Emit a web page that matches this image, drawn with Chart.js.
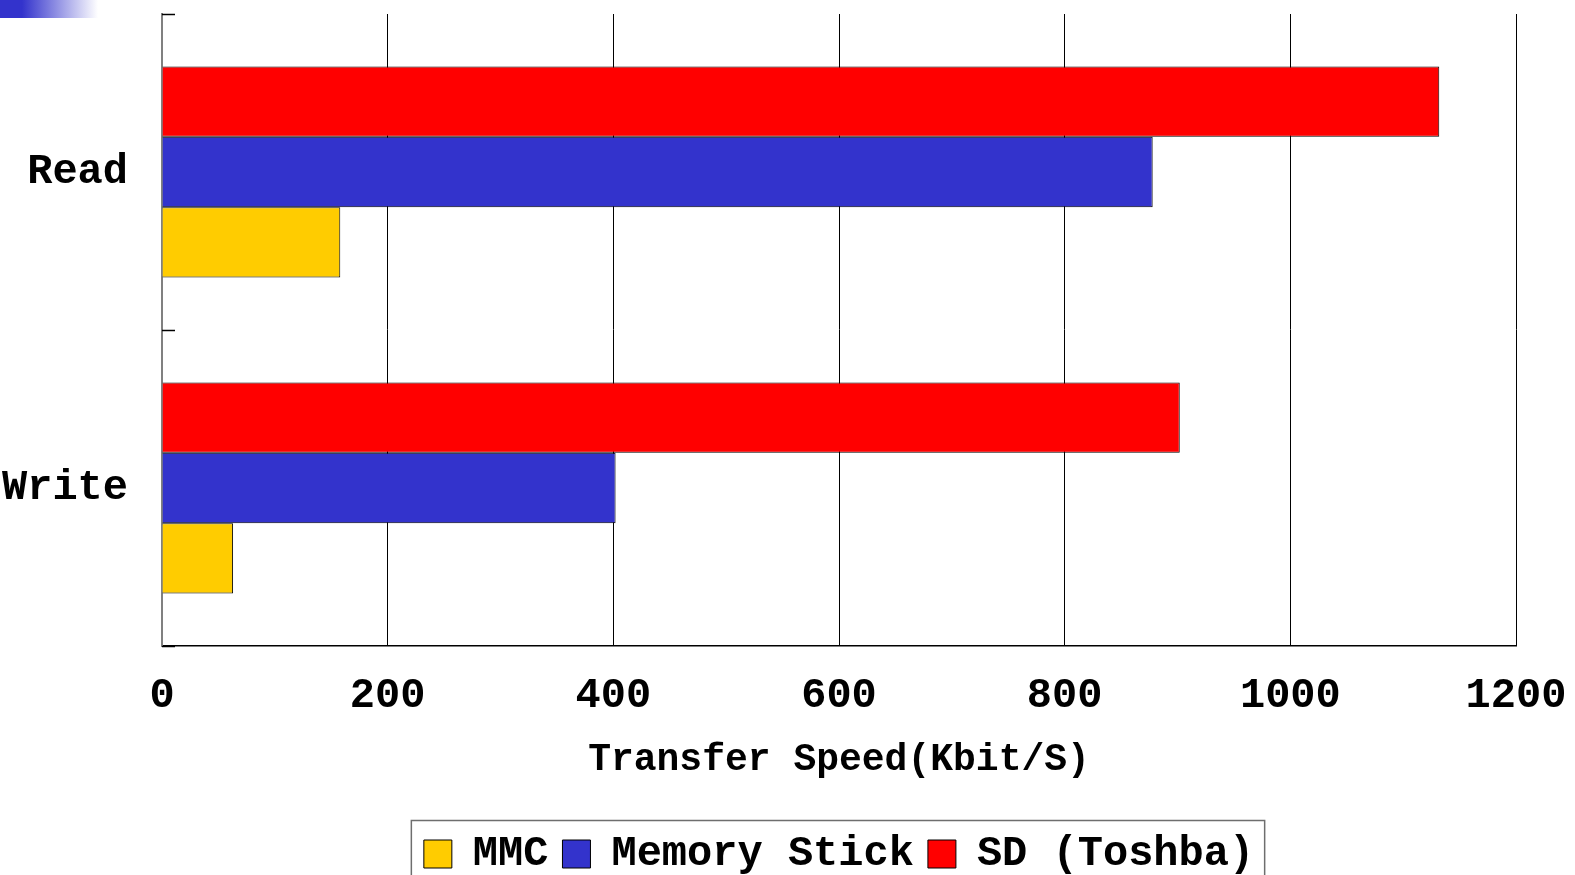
<!DOCTYPE html>
<html>
<head>
<meta charset="utf-8">
<title>Transfer Speed</title>
<script src="https://cdn.jsdelivr.net/npm/chart.js@4"></script>
<style>
  html, body { margin: 0; padding: 0; background: #fff; }
  #wrap { position: relative; width: 1575px; height: 875px; overflow: hidden; }
  #corner {
    position: absolute; left: 0; top: 0; width: 98px; height: 18px;
    background: linear-gradient(to right, #3333cc 0, #3333cc 22px, #ffffff 98px);
  }
  canvas { position: absolute; left: 0; top: 0; }
</style>
</head>
<body>
<div id="wrap">
  <canvas id="chart" width="1575" height="875"></canvas>
  <div id="corner"></div>
</div>
<script>
// ── Data ──────────────────────────────────────────────────────────────────
var CATEGORIES   = ['Read', 'Write'];
var MMC          = [158, 63];
var MEMORY_STICK = [878, 402];
var SD_TOSHBA    = [1132, 902];
var X_MAX        = 1200;
var X_STEP       = 200;

var FONT = "'Liberation Mono', 'DejaVu Sans Mono', monospace";

// ── Inside tick marks on the category axis ───────────────────────────────
var innerTicks = {
  id: 'innerTicks',
  afterDatasetsDraw: function (chart) {
    var y = chart.scales.y;
    var area = chart.chartArea;
    var ctx = chart.ctx;
    var n = y.ticks.length;
    var step = n > 1 ? y.getPixelForTick(1) - y.getPixelForTick(0) : area.bottom - area.top;
    var first = y.getPixelForTick(0) - step / 2;
    ctx.save();
    ctx.strokeStyle = '#000';
    ctx.lineWidth = 1.5;
    for (var i = 0; i <= n; i++) {
      var py = Math.round(first + i * step) + 0.5;
      ctx.beginPath();
      ctx.moveTo(area.left, py);
      ctx.lineTo(area.left + 13, py);
      ctx.stroke();
    }
    ctx.restore();
  }
};

// ── Frame round the legend ───────────────────────────────────────────────
var legendFrame = {
  id: 'legendFrame',
  afterDraw: function (chart) {
    var boxes = chart.legend && chart.legend.legendHitBoxes;
    if (!boxes || !boxes.length) { return; }
    var first = boxes[0], last = boxes[boxes.length - 1];
    var left = first.left - 13;
    var right = last.left + last.width + 10;
    var top = first.top - 13;
    var ctx = chart.ctx;
    ctx.save();
    ctx.strokeStyle = '#6e6e6e';
    ctx.lineWidth = 1.5;
    ctx.strokeRect(left + 0.5, top + 0.5, right - left, chart.height - top + 10);
    ctx.restore();
  }
};

new Chart(document.getElementById('chart'), {
  type: 'bar',
  data: {
    labels: CATEGORIES,
    datasets: [
      { label: 'SD (Toshba)',  data: SD_TOSHBA,    backgroundColor: '#ff0000', borderColor: '#000', borderWidth: 1 },
      { label: 'Memory Stick', data: MEMORY_STICK, backgroundColor: '#3333cc', borderColor: '#000', borderWidth: 1 },
      { label: 'MMC',          data: MMC,          backgroundColor: '#ffcc00', borderColor: '#000', borderWidth: 1 }
    ]
  },
  options: {
    responsive: false,
    animation: false,
    indexAxis: 'y',
    categoryPercentage: 0.667,
    barPercentage: 1,
    layout: { padding: { top: 14, right: 59, bottom: -10, left: 0 } },
    plugins: {
      legend: {
        position: 'bottom',
        fullSize: false,
        reverse: true,
        labels: {
          color: '#000',
          font: { family: FONT, size: 42, weight: 'bold' },
          boxWidth: 28,
          boxHeight: 28,
          padding: 14
        }
      },
      tooltip: { enabled: false }
    },
    scales: {
      x: {
        min: 0,
        max: X_MAX,
        afterFit: function (scale) {
          scale.height = 173;
          scale.paddingLeft = 0;
          scale.paddingRight = 0;
        },
        ticks: {
          stepSize: X_STEP,
          color: '#000',
          padding: 25,
          maxRotation: 0,
          callback: function (v) { return String(v); },
          font: { family: FONT, size: 42, weight: 'bold' }
        },
        grid: {
          drawTicks: false,
          lineWidth: 1,
          color: function (c) { return c.tick && c.tick.value === 0 ? 'rgba(0,0,0,0)' : '#000'; }
        },
        border: { display: true, color: '#000', width: 1.5 },
        title: {
          display: true,
          text: 'Transfer Speed(Kbit/S)',
          color: '#000',
          font: { family: FONT, size: 38, weight: 'bold' },
          padding: { top: 0, bottom: 36 }
        }
      },
      y: {
        afterFit: function (scale) {
          scale.width = 162;
          scale.paddingTop = 0;
          scale.paddingBottom = 0;
        },
        ticks: {
          color: '#000',
          padding: 34,
          font: { family: FONT, size: 42, weight: 'bold' }
        },
        grid: { display: false, drawTicks: false },
        border: { display: true, color: '#808080', width: 2 }
      }
    }
  },
  plugins: [innerTicks, legendFrame]
});
</script>
</body>
</html>
